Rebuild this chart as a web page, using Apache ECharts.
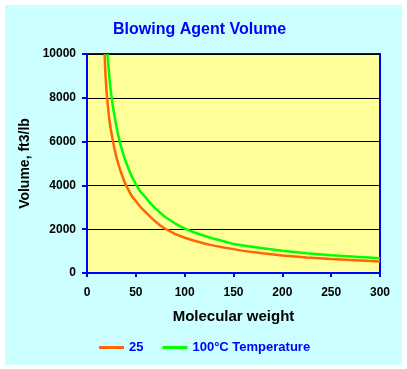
<!DOCTYPE html>
<html>
<head>
<meta charset="utf-8">
<script src="https://cdn.jsdelivr.net/npm/echarts@6/dist/echarts.min.js"></script>
<style>
html,body{margin:0;padding:0;background:#ffffff;}
#chart{position:absolute;left:5px;top:5px;width:397px;height:360px;}
</style>
</head>
<body>
<div id="chart"></div>
<script>
// Data
var titleText = "Blowing Agent Volume";
var xAxisName = "Molecular weight";
var yAxisName = "Volume, ft3/lb";
var seriesNames = ["25", "100°C Temperature"];
var molecularWeight = [18, 19, 20, 21, 22, 23, 24, 25, 26, 28, 30, 32, 34, 36, 38, 40, 43, 46, 50, 55, 60, 65, 70, 75, 80, 90, 100, 110, 120, 130, 140, 150, 160, 180, 200, 225, 250, 275, 300];
var volume25 =  [10000, 9000, 8300, 7800, 7350, 6950, 6650, 6400, 6150, 5700, 5300, 5000, 4700, 4450, 4200, 4000, 3750, 3500, 3280, 3000, 2780, 2560, 2350, 2170, 2020, 1790, 1610, 1470, 1350, 1250, 1160, 1090, 1010, 900, 800, 710, 640, 580, 530];
var volume100 = [null, null, null, 10000, 9400, 8900, 8450, 8100, 7750, 7200, 6700, 6300, 5900, 5600, 5300, 5050, 4700, 4400, 4050, 3700, 3450, 3180, 2950, 2750, 2560, 2270, 2030, 1850, 1700, 1560, 1450, 1320, 1260, 1130, 1020, 900, 810, 740, 670];
var xMin = 0, xMax = 300, xStep = 50;
var yMin = 0, yMax = 10000, yStep = 2000;

function pairs(xs, ys) {
  var out = [];
  for (var i = 0; i < xs.length; i++) {
    if (ys[i] !== null) out.push([xs[i], ys[i]]);
  }
  return out;
}

var font = "'Liberation Sans', Arial, sans-serif";
var chart = echarts.init(document.getElementById('chart'), null, {renderer: 'canvas'});
chart.setOption({
  backgroundColor: '#CCFFFF',
  animation: false,
  title: {
    text: titleText,
    left: 103,
    top: 12,
    textStyle: {color: '#0000FF', fontWeight: 'bold', fontSize: 16, fontFamily: font}
  },
  grid: {
    left: 82, top: 49, width: 293, height: 219,
    show: true, backgroundColor: '#FFFF99', borderColor: '#0000FF', borderWidth: 2
  },
  legend: {
    left: 89, top: 331,
    icon: 'rect',
    itemWidth: 25, itemHeight: 3, itemGap: 19,
    textStyle: {color: '#0000FF', fontWeight: 'bold', fontSize: 13, fontFamily: font},
    data: seriesNames
  },
  xAxis: {
    type: 'value', min: xMin, max: xMax, interval: xStep,
    name: xAxisName, nameLocation: 'middle', nameGap: 36,
    nameTextStyle: {color: '#000000', fontWeight: 'bold', fontSize: 15, fontFamily: font},
    axisLine: {show: true, lineStyle: {color: '#0000FF', width: 2}},
    axisTick: {show: true, length: 4, lineStyle: {color: '#0000FF', width: 2}},
    axisLabel: {color: '#000000', fontWeight: 'bold', fontSize: 12, fontFamily: font, margin: 14,
      formatter: function (v) { return String(v); }},
    splitLine: {show: false}
  },
  yAxis: {
    type: 'value', min: yMin, max: yMax, interval: yStep,
    name: yAxisName, nameLocation: 'middle', nameGap: 40,
    nameTextStyle: {color: '#000000', fontWeight: 'bold', fontSize: 14, fontFamily: font},
    axisLine: {show: true, lineStyle: {color: '#0000FF', width: 2}},
    axisTick: {show: true, length: 5, lineStyle: {color: '#0000FF', width: 2}},
    axisLabel: {color: '#000000', fontWeight: 'bold', fontSize: 12, fontFamily: font, margin: 11,
      formatter: function (v) { return String(v); }},
    splitLine: {show: true, lineStyle: {color: '#000000', width: 1}}
  },
  series: [
    {
      name: seriesNames[0], type: 'line', data: pairs(molecularWeight, volume25),
      symbol: 'none', smooth: false, clip: true,
      lineStyle: {color: '#FF6600', width: 2.5}, itemStyle: {color: '#FF6600'}
    },
    {
      name: seriesNames[1], type: 'line', data: pairs(molecularWeight, volume100),
      symbol: 'none', smooth: false, clip: true,
      lineStyle: {color: '#00FF00', width: 2.5}, itemStyle: {color: '#00FF00'}
    }
  ]
});
</script>
</body>
</html>
